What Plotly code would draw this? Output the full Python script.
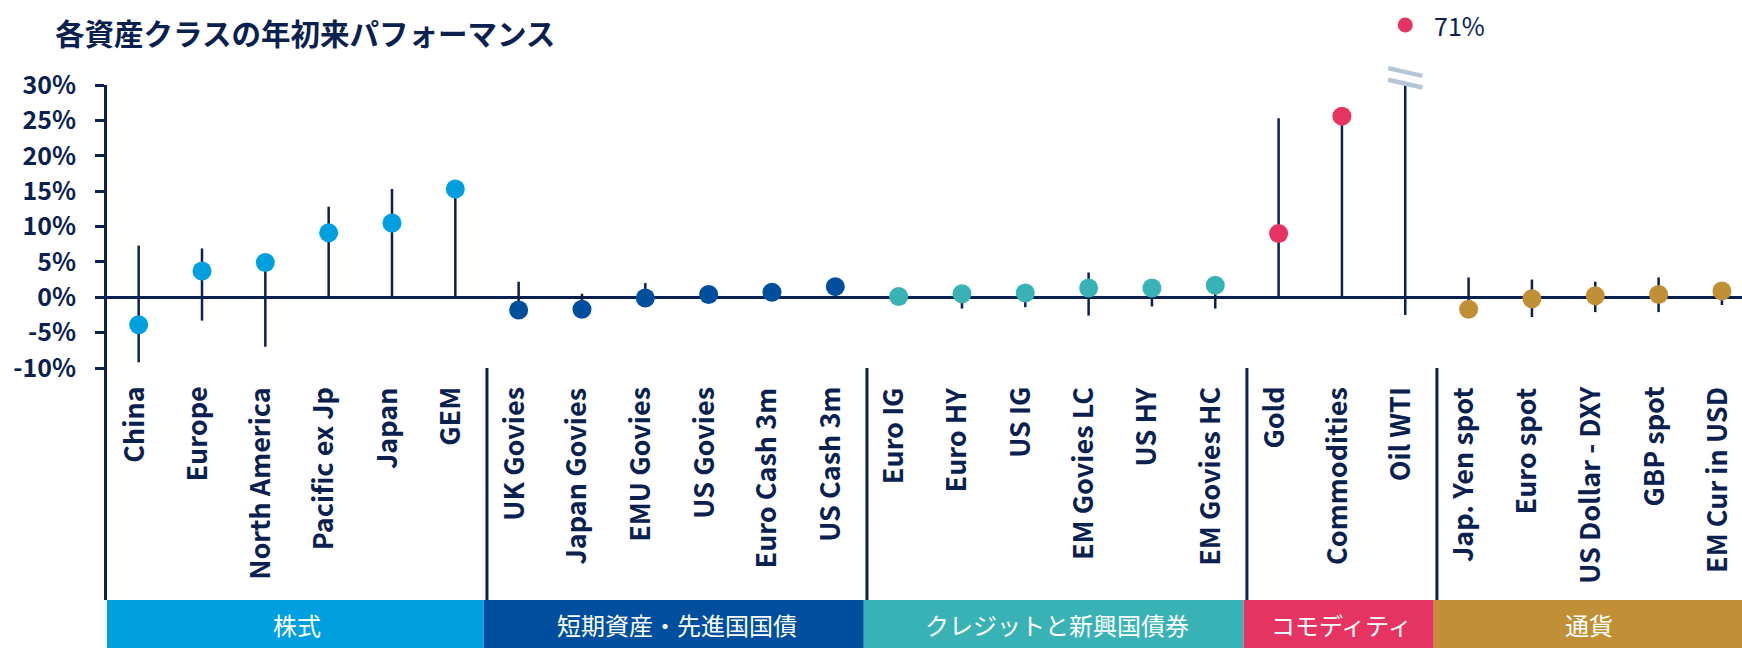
import plotly.graph_objects as go

# ---------------- data ----------------
categories = ["China", "Europe", "North America", "Pacific ex Jp", "Japan", "GEM",
              "UK Govies", "Japan Govies", "EMU Govies", "US Govies", "Euro Cash 3m", "US Cash 3m",
              "Euro IG", "Euro HY", "US IG", "EM Govies LC", "US HY", "EM Govies HC",
              "Gold", "Commodities", "Oil WTI",
              "Jap. Yen spot", "Euro spot", "US Dollar - DXY", "GBP spot", "EM Cur in USD"]
group_names = ["株式", "短期資産・先進国国債", "クレジットと新興国債券", "コモディティ", "通貨"]
group_sizes = [6, 6, 6, 3, 5]
ytd = [-3.9, 3.7, 4.9, 9.1, 10.5, 15.3,
       -1.8, -1.7, -0.1, 0.4, 0.7, 1.5,
       0.1, 0.5, 0.6, 1.3, 1.3, 1.7,
       9.0, 25.6, 71.0,
       -1.7, -0.2, 0.2, 0.4, 0.9]
range_low = [-9.2, -3.3, -7.0, 0.0, 0.0, 0.0,
             -1.8, -1.7, -0.1, 0.0, 0.0, 0.0,
             0.0, -1.6, -1.4, -2.6, -1.3, -1.6,
             0.0, 0.0, -2.5,
             -1.7, -2.8, -2.1, -2.1, -1.1]
range_high = [7.3, 6.9, 4.5, 12.8, 15.3, 15.3,
              2.2, 0.5, 2.0, 0.4, 0.7, 1.5,
              0.1, 0.5, 0.6, 3.5, 1.3, 1.7,
              25.3, 25.6, 71.0,
              2.8, 2.5, 2.2, 2.8, 0.9]
y_tick_vals = [-10, -5, 0, 5, 10, 15, 20, 25, 30]
y_tick_text = ["-10%", "-5%", "0%", "5%", "10%", "15%", "20%", "25%", "30%"]
title_text = "各資産クラスの年初来パフォーマンス"

# ---------------- styles ----------------
NAVY = "#0A2150"
group_colors = ["#009FDF", "#004F9F", "#38B2B5", "#E63462", "#C18F36"]
Y_MIN, Y_MAX = -10, 30
FONT = "Noto Sans CJK JP"
M_L, M_T, M_B = 107, 85, 280
H_PLOT = 648 - M_T - M_B
W_PLOT = 1742 - M_L
BREAK_DOT_PY = 1 + (M_T - 25) / H_PLOT     # paper y of the out-of-range dot

fig = go.Figure()

# range lines
lx, ly = [], []
for c, lo, hi in zip(categories, range_low, range_high):
    lx += [c, c, None]
    ly += [lo, hi, None]
fig.add_trace(go.Scatter(x=lx, y=ly, mode="lines", line=dict(color=NAVY, width=2.5),
                         hoverinfo="skip", showlegend=False))

# dots per group
start = 0
for name, size, col in zip(group_names, group_sizes, group_colors):
    xs, ys = [], []
    for i in range(start, start + size):
        if ytd[i] <= Y_MAX:
            xs.append(categories[i]); ys.append(ytd[i])
        else:
            # value beyond the axis: axis break marker + dot and label above the plot
            fig.add_shape(type="circle", xref="x", yref="paper",
                          xsizemode="pixel", ysizemode="pixel",
                          xanchor=i, yanchor=BREAK_DOT_PY,
                          x0=-7.5, x1=7.5, y0=-7.5, y1=7.5,
                          fillcolor=col, line=dict(width=0))
            fig.add_annotation(x=i, y=BREAK_DOT_PY, xref="x", yref="paper",
                               text=f"{ytd[i]:.0f}%", showarrow=False,
                               xanchor="left", yanchor="middle", xshift=27,
                               font=dict(family=FONT, size=25, color=NAVY))
            for cy in (1.005, 1.046):
                fig.add_shape(type="line", xref="x", yref="paper",
                              x0=i - 0.27, x1=i + 0.27,
                              y0=cy + 0.0136, y1=cy - 0.0136,
                              line=dict(color="#B4C6D6", width=4.5), layer="above")
    fig.add_trace(go.Scatter(x=xs, y=ys, mode="markers", name=name,
                             marker=dict(color=col, size=19, line=dict(width=0)),
                             showlegend=False))
    start += size

# category labels (rotated, placed under the plot)
label_top = -(385 - (648 - M_B)) / H_PLOT
for c in categories:
    fig.add_annotation(x=c, y=label_top, xref="x", yref="paper", text=c,
                       textangle=-90, showarrow=False, xanchor="center", yanchor="top",
                       xshift=-7,
                       font=dict(family=FONT, size=27, color=NAVY, weight="bold"))

# group separators, bands and labels
band_top = -(600 - (648 - M_B)) / H_PLOT
band_bot = -(648 - (648 - M_B)) / H_PLOT
x_end = -0.5 + W_PLOT / 63.33
start = 0
for k, (name, size, col) in enumerate(zip(group_names, group_sizes, group_colors)):
    x0 = start - 0.5
    x1 = start + size - 0.5
    fig.add_shape(type="rect", xref="x", yref="paper", x0=x0, x1=x1,
                  x0shift=0 if k == 0 else -0.05, x1shift=-0.05,
                  y0=band_bot, y1=band_top, fillcolor=col, line=dict(width=0), layer="above")
    fig.add_annotation(x=(x0 + min(x1, x_end)) / 2,
                       y=(band_top + band_bot) / 2, xref="x", yref="paper",
                       text=name, showarrow=False, xanchor="center", yanchor="middle",
                       font=dict(family=FONT, size=24, color="white"))
    if k > 0:
        fig.add_shape(type="line", xref="x", yref="paper", x0=x0, x1=x0,
                      y0=band_top, y1=0, line=dict(color=NAVY, width=3), layer="above")
    start += size

# left axis extension
fig.add_shape(type="line", xref="paper", yref="paper", x0=-1.5 / W_PLOT, x1=-1.5 / W_PLOT,
              y0=band_top, y1=0, line=dict(color=NAVY, width=3))

fig.add_annotation(xref="paper", yref="paper", x=(53 - M_L) / W_PLOT, y=1 + (M_T - 32) / H_PLOT,
                   text=title_text, showarrow=False, xanchor="left", yanchor="middle",
                   font=dict(family=FONT, size=29.5, color=NAVY, weight="bold"))

fig.update_layout(
    width=1742, height=648,
    margin=dict(l=M_L, r=0, t=M_T, b=M_B),
    plot_bgcolor="white", paper_bgcolor="white",
    showlegend=False,
    xaxis=dict(type="category", categoryorder="array", categoryarray=categories,
               range=[-0.5, x_end], showgrid=False, zeroline=False, showline=False,
               ticks="", showticklabels=False),
    yaxis=dict(range=[Y_MIN, Y_MAX], tickvals=y_tick_vals, ticktext=y_tick_text,
               showgrid=False, zeroline=True, zerolinecolor=NAVY, zerolinewidth=3,
               showline=True, linecolor=NAVY, linewidth=3,
               ticks="outside", ticklen=9, tickwidth=3, tickcolor=NAVY,
               ticklabelstandoff=14,
               tickfont=dict(family=FONT, size=25, color=NAVY, weight="bold")),
)

fig.write_html("out.html")
